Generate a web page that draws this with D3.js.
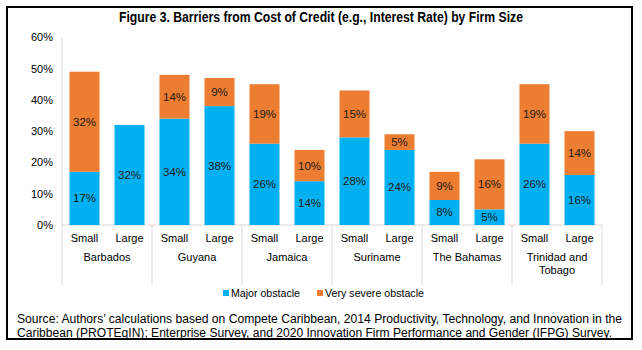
<!DOCTYPE html>
<html><head><meta charset="utf-8">
<script src="https://cdn.jsdelivr.net/npm/d3@7"></script>
<style>body{margin:0;background:#fff}svg{display:block}</style>
</head><body><svg id="c" width="642" height="350"></svg>
<script>
const countries = ["Barbados","Guyana","Jamaica","Suriname","The Bahamas","Trinidad and Tobago"];
const sizes = ["Small","Large"];
const major = [17,32, 34,38, 26,14, 28,24, 8,5, 26,16];
const severe = [32,0, 14,9, 19,10, 15,5, 9,16, 19,14];
const yTicks = [0,10,20,30,40,50,60];
const seriesNames = ["Major obstacle","Very severe obstacle"];
const colors = ["#00B0F0","#ED7D31"];

const svg = d3.select("#c");
const F = "'Liberation Sans', Arial, sans-serif";
svg.append("rect").attr("x",7).attr("y",7).attr("width",625).attr("height",332)
  .attr("fill","none").attr("stroke","#000").attr("stroke-width",2);

svg.append("text").attr("x",119).attr("y",22)
  .attr("font-family",F).attr("font-weight","bold").attr("font-size",14.5)
  .attr("textLength",404).attr("lengthAdjust","spacingAndGlyphs")
  .text("Figure 3. Barriers from Cost of Credit (e.g., Interest Rate) by Firm Size");

const x0 = 62, x1 = 602, yTop = 37.3, yBot = 225;
const keys = [];
countries.forEach(c => sizes.forEach(s => keys.push(c+"|"+s)));
const rows = keys.map((k,i)=>({key:k, c:k.split("|")[0], s:k.split("|")[1], major:major[i], severe:severe[i]}));
const x = d3.scaleBand().domain(keys).range([x0,x1]).paddingInner(1/3).paddingOuter(1/6);
const y = d3.scaleLinear().domain([0,60]).range([yBot,yTop]);
const gx = d3.scaleBand().domain(countries).range([x0,x1]);

const stack = d3.stack().keys(["major","severe"])(rows);

svg.append("line").attr("x1",x0).attr("x2",x0).attr("y1",y(60)).attr("y2",yBot).attr("stroke","#d9d9d9");
svg.append("line").attr("x1",x0).attr("x2",x1).attr("y1",yBot).attr("y2",yBot).attr("stroke","#d9d9d9");
const ya = svg.append("g").attr("transform",`translate(${x0},0)`)
  .call(d3.axisLeft(y).tickValues(yTicks).tickSize(0).tickPadding(9).tickFormat(d=>d+"%"));
ya.select(".domain").remove();
ya.selectAll("text").attr("font-family",F).attr("font-size",11).attr("fill","#000");

const divs = countries.map(c=>gx(c)).concat([x1]);
svg.selectAll(".dv").data(divs).join("line").attr("x1",d=>d).attr("x2",d=>d)
  .attr("y1",yBot).attr("y2",285).attr("stroke","#d9d9d9");

stack.forEach((layer,li)=>{
  const g = svg.append("g");
  g.selectAll("rect").data(layer.filter(d=>d[1]-d[0]>0)).join("rect")
    .attr("x",d=>x(d.data.key)).attr("width",x.bandwidth())
    .attr("y",d=>y(d[1])).attr("height",d=>y(d[0])-y(d[1]))
    .attr("fill",colors[li]);
  g.selectAll("text").data(layer.filter(d=>d[1]-d[0]>0)).join("text")
    .attr("x",d=>x(d.data.key)+x.bandwidth()/2).attr("y",d=>(y(d[0])+y(d[1]))/2+4)
    .attr("text-anchor","middle").attr("font-family",F).attr("font-size",11.5).attr("fill","#1a1a1a")
    .text(d=>(d[1]-d[0])+"%");
});

svg.selectAll(".sz").data(rows).join("text")
  .attr("x",d=>x(d.key)+x.bandwidth()/2).attr("y",242).attr("text-anchor","middle")
  .attr("font-family",F).attr("font-size",11).text(d=>d.s);
const cl = svg.selectAll(".ct").data(countries).join("text")
  .attr("x",d=>gx(d)+gx.bandwidth()/2).attr("y",261).attr("text-anchor","middle")
  .attr("font-family",F).attr("font-size",11);
cl.each(function(d){
  const t = d3.select(this);
  const parts = d==="Trinidad and Tobago" ? ["Trinidad and","Tobago"] : [d];
  parts.forEach((p,i)=>t.append("tspan").attr("x",gx(d)+gx.bandwidth()/2).attr("dy",i?13:0).text(p));
});

const leg = [{x:223,w:69,name:seriesNames[0],c:colors[0]},{x:317,w:99,name:seriesNames[1],c:colors[1]}];
leg.forEach(l=>{
  svg.append("rect").attr("x",l.x).attr("y",290).attr("width",6).attr("height",6).attr("fill",l.c);
  svg.append("text").attr("x",l.x+8).attr("y",297).attr("font-family",F).attr("font-size",11.5)
    .attr("textLength",l.w).attr("lengthAdjust","spacingAndGlyphs").text(l.name);
});

const src = ["Source: Authors’ calculations based on Compete Caribbean, 2014 Productivity, Technology, and Innovation in the",
 "Caribbean (PROTEqIN); Enterprise Survey, and 2020 Innovation Firm Performance and Gender (IFPG) Survey."];
const srcW = [605, 595];
src.forEach((s,i)=>svg.append("text").attr("x",17).attr("y",323+i*14).attr("font-family",F).attr("font-size",12)
  .attr("textLength",srcW[i]).attr("lengthAdjust","spacingAndGlyphs").text(s));
</script></body></html>
